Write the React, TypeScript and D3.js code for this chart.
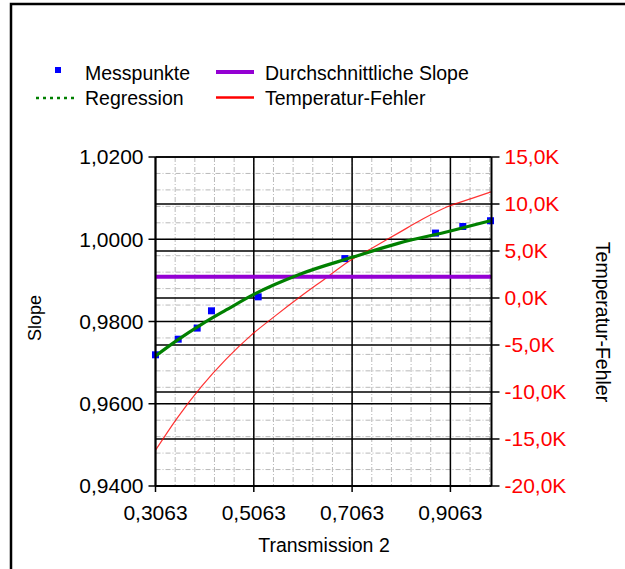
import * as d3 from 'd3';

// measured points (Transmission 2 -> Slope)
const messX = [0.3063, 0.3525, 0.3911, 0.4202, 0.5152, 0.6915, 0.876, 0.9315, 0.9879];
const messY = [0.9719, 0.9757, 0.9784, 0.9826, 0.986, 0.9953, 1.0015, 1.0031, 1.0045];

// regression curve
const regX = [0.3063, 0.35, 0.4, 0.45, 0.5063, 0.6, 0.7063, 0.8, 0.9063, 0.9879];
const regY = [0.9716, 0.9754, 0.9793, 0.9828, 0.9866, 0.9915, 0.9956, 0.999, 1.002, 1.0045];

const avgSlope = 0.9909;

// temperature error (K), right axis
const tempX = [0.3063, 0.35, 0.4, 0.45, 0.5, 0.55, 0.6, 0.65, 0.7, 0.75, 0.8, 0.85, 0.9, 0.95, 0.9899];
const tempY = [-16.2, -12.8, -9.4, -6.5, -4.0, -1.9, 0.1, 2.0, 3.9, 5.4, 6.9, 8.4, 9.7, 10.6, 11.3];

const xTicks = [0.3063, 0.5063, 0.7063, 0.9063];
const leftTicks = [0.94, 0.96, 0.98, 1.0, 1.02];
const rightTicks = [-20, -15, -10, -5, 0, 5, 10, 15];

const FONT = '"Liberation Sans", Arial, sans-serif';

export default function App() {
  const W = 625;
  const H = 569;
  const plot = { left: 155.5, right: 491.5, top: 157, bottom: 486 };

  const x = d3.scaleLinear().domain([0.3063, 0.9899]).range([plot.left, plot.right]);
  const yL = d3.scaleLinear().domain([0.94, 1.02]).range([plot.bottom, plot.top]);
  const yR = d3.scaleLinear().domain([-20, 15]).range([plot.bottom, plot.top]);

  const minorY = d3.range(0.94, 1.0201, 0.004);
  const minorX = d3.range(0.3063, 0.99, 0.04);

  const regLine = d3
    .line<number>()
    .x((_, i) => x(regX[i]))
    .y((d) => yL(d))
    .curve(d3.curveMonotoneX);
  const tempLine = d3
    .line<number>()
    .x((_, i) => x(tempX[i]))
    .y((d) => yR(d))
    .curve(d3.curveMonotoneX);

  const fmtL = (v: number) => v.toFixed(4).replace('.', ',');
  const fmtR = (v: number) => v.toFixed(1).replace('.', ',') + 'K';

  return (
    <div style={{ position: 'absolute', left: 0, top: 0 }}>
      <svg width={W} height={H} style={{ display: 'block', background: '#fff' }} fontFamily={FONT}>
        <rect x={11} y={4} width={W + 20} height={H + 20} fill="#fff" stroke="#000" strokeWidth={2.5} />

        {/* legend */}
        <rect x={55} y={67} width={6} height={6} fill="#0000ff" />
        <text x={85} y={73} dy="0.35em" fontSize={19.5} fill="#000">Messpunkte</text>
        <line x1={36} x2={78} y1={98} y2={98} stroke="#008000" strokeWidth={2.5} strokeDasharray="3 4" />
        <text x={85} y={98} dy="0.35em" fontSize={19.5} fill="#000">Regression</text>
        <line x1={216} x2={254} y1={72} y2={72} stroke="#9400d3" strokeWidth={4} />
        <text x={265} y={73} dy="0.35em" fontSize={19.5} fill="#000">Durchschnittliche Slope</text>
        <line x1={216} x2={254} y1={97.5} y2={97.5} stroke="#ff0000" strokeWidth={2.5} />
        <text x={265} y={98} dy="0.35em" fontSize={19.5} fill="#000">Temperatur-Fehler</text>

        {/* minor grid */}
        {minorY.map((v, i) => (
          <line key={'my' + i} x1={plot.left} x2={plot.right} y1={yL(v)} y2={yL(v)} stroke="#b9b9b9" strokeWidth={1} strokeDasharray="5 2 1 2" />
        ))}
        {minorX.map((v, i) => (
          <line key={'mx' + i} x1={x(v)} x2={x(v)} y1={plot.top} y2={plot.bottom} stroke="#b9b9b9" strokeWidth={1} strokeDasharray="5 2 1 2" />
        ))}

        {/* major grid */}
        {leftTicks.map((v) => (
          <line key={'gl' + v} x1={plot.left} x2={plot.right} y1={yL(v)} y2={yL(v)} stroke="#000" strokeWidth={1.5} />
        ))}
        {rightTicks.map((v) => (
          <line key={'gr' + v} x1={plot.left} x2={plot.right} y1={yR(v)} y2={yR(v)} stroke="#000" strokeWidth={1.5} />
        ))}
        {xTicks.map((v) => (
          <line key={'gx' + v} x1={x(v)} x2={x(v)} y1={plot.top} y2={plot.bottom} stroke="#000" strokeWidth={1.5} />
        ))}

        {/* series */}
        {messX.map((v, i) => (
          <rect key={'m' + i} x={x(v) - 3.5} y={yL(messY[i]) - 3.5} width={7} height={7} fill="#0000ff" />
        ))}
        <path d={tempLine(tempY) ?? ''} fill="none" stroke="#ff0000" strokeOpacity={0.8} strokeWidth={1.2} />
        <line x1={plot.left} x2={plot.right} y1={yL(avgSlope)} y2={yL(avgSlope)} stroke="#9400d3" strokeWidth={4} />
        <path d={regLine(regY) ?? ''} fill="none" stroke="#008000" strokeWidth={3.2} />

        {/* axes */}
        <line x1={plot.left} x2={plot.left} y1={plot.top} y2={plot.bottom} stroke="#000" strokeWidth={2} />
        <line x1={plot.right} x2={plot.right} y1={plot.top} y2={plot.bottom} stroke="#000" strokeWidth={2} />
        <line x1={plot.left} x2={plot.right} y1={plot.bottom} y2={plot.bottom} stroke="#000" strokeWidth={2} />

        {leftTicks.map((v) => (
          <g key={'tl' + v}>
            <line x1={plot.left - 7} x2={plot.left} y1={yL(v)} y2={yL(v)} stroke="#000" strokeWidth={1.5} />
            <text x={plot.left - 12} y={yL(v)} dy="0.35em" textAnchor="end" fontSize={21} fill="#000">
              {fmtL(v)}
            </text>
          </g>
        ))}
        {rightTicks.map((v) => (
          <g key={'tr' + v}>
            <line x1={plot.right} x2={plot.right + 8} y1={yR(v)} y2={yR(v)} stroke="#000" strokeWidth={1.5} />
            <text x={plot.right + 13} y={yR(v)} dy="0.35em" textAnchor="start" fontSize={21} fill="#ff0000">
              {fmtR(v)}
            </text>
          </g>
        ))}
        {xTicks.map((v) => (
          <g key={'tx' + v}>
            <line x1={x(v)} x2={x(v)} y1={plot.bottom} y2={plot.bottom + 6} stroke="#000" strokeWidth={1.5} />
            <text x={x(v)} y={513} dy="0.35em" textAnchor="middle" fontSize={21} fill="#000">
              {v.toFixed(4).replace('.', ',')}
            </text>
          </g>
        ))}

        <text x={324} y={545} dy="0.35em" textAnchor="middle" fontSize={19.5} fill="#000">Transmission 2</text>
        <text transform="translate(35,318) rotate(-90)" dy="0.35em" textAnchor="middle" fontSize={18} fill="#000">Slope</text>
        <text transform="translate(603,322) rotate(90)" dy="0.35em" textAnchor="middle" fontSize={19.5} fill="#000">Temperatur-Fehler</text>
      </svg>
    </div>
  );
}
